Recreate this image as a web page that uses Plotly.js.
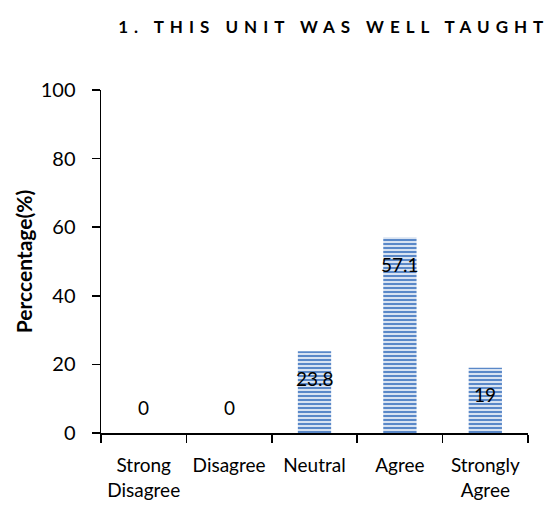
<!DOCTYPE html>
<html>
<head>
<meta charset="utf-8">
<script src="https://cdn.plot.ly/plotly-3.0.1.min.js"></script>
<style>body{margin:0;background:#fff}</style>
</head>
<body>
<div id="graph" style="width:550px;height:506px"></div>
<script>
// data
var categories = ['Strong<br>Disagree', 'Disagree', 'Neutral', 'Agree', 'Strongly<br>Agree'];
var percentages = [0, 0, 23.8, 57.1, 19];
var labels = ['0', '0', '23.8', '57.1', '19'];

var font = 'Lato, Liberation Sans, sans-serif';

var data = [
{
    type: 'bar',
    x: categories,
    y: percentages,
    marker: {
        color: '#dce6f3',
        line: {width: 0},
        pattern: {shape: '-', fgcolor: '#5a88c8', bgcolor: '#d8e3f2', size: 4, solidity: 0.5}
    },
    hoverinfo: 'none'
}
];

// labels sit just inside the bar top; empty bars get theirs above the axis
var annotations = categories.map(function(c, i) {
    return {
        x: c, y: percentages[i], text: labels[i],
        showarrow: false, yshift: percentages[i] > 0 ? -27 : 26,
        font: {family: font, size: 19, color: '#000'}
    };
});

var layout = {
    width: 550,
    height: 506,
    margin: {l: 101, r: 22, t: 90, b: 73},
    paper_bgcolor: '#fff',
    plot_bgcolor: '#fff',
    showlegend: false,
    bargap: 0.61,
    font: {family: font, size: 19, color: '#000'},
    title: {
        text: '<b>1. THIS UNIT WAS WELL TAUGHT</b>',
        font: {family: font, size: 17, color: '#000'},
        xref: 'paper', x: 0.545, xanchor: 'center',
        yref: 'container', y: 0.947, yanchor: 'middle'
    },
    xaxis: {
        showline: true, linecolor: '#000', linewidth: 1.5,
        ticks: 'outside', tickson: 'boundaries', ticklen: 8, tickcolor: '#000', tickwidth: 1.5,
        tickfont: {family: font, size: 19}, ticklabelstandoff: 15,
        showgrid: false, zeroline: false, fixedrange: true
    },
    yaxis: {
        range: [0, 100], tickvals: [0, 20, 40, 60, 80, 100],
        showline: true, linecolor: '#000', linewidth: 1.5,
        ticks: 'outside', ticklen: 8, tickcolor: '#000', tickwidth: 1.5,
        tickfont: {family: font, size: 20}, ticklabelstandoff: 12,
        showgrid: false, zeroline: false,
        title: {text: '<b>Perccentage(%)</b>', font: {family: font, size: 21}, standoff: 2}
    },
    annotations: annotations
};

Plotly.newPlot('graph', data, layout, {displayModeBar: false, staticPlot: true}).then(function() {
    var t = document.querySelector('.gtitle');
    if (t) t.style.letterSpacing = '6px';
});
</script>
</body>
</html>
